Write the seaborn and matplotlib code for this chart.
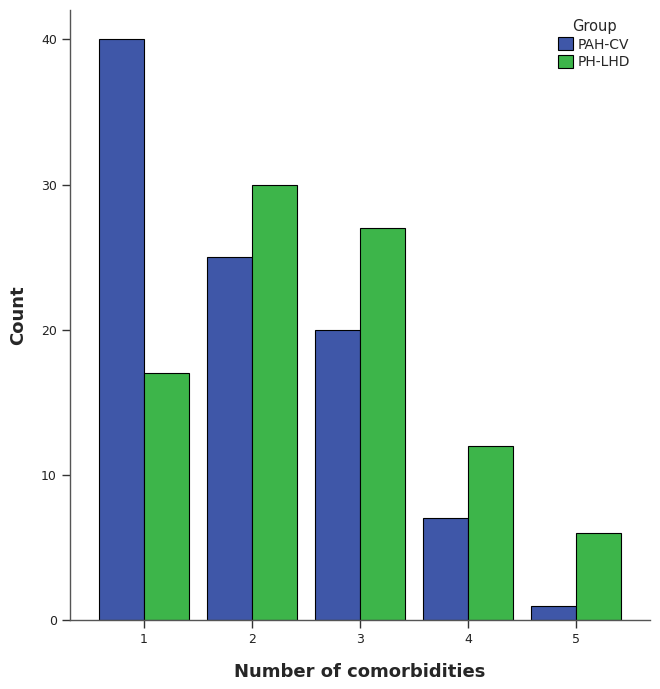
import pandas as pd
import seaborn as sns
import matplotlib.pyplot as plt

# comorbidity counts per group
categories = ['1', '2', '3', '4', '5']
groups = ['PAH-CV', 'PH-LHD']
pahCv = [40, 25, 20, 7, 1]
phLhd = [17, 30, 27, 12, 6]
palette = {'PAH-CV': '#3F57A8', 'PH-LHD': '#3DB54A'}

df = pd.DataFrame({
    'Number of comorbidities': categories * 2,
    'Count': pahCv + phLhd,
    'Group': [groups[0]] * len(categories) + [groups[1]] * len(categories),
})

sns.set_style('white')
plt.rcParams['font.family'] = ['DejaVu Sans']

fig = plt.figure(figsize=(6.6, 6.89), dpi=100)
ax = fig.add_axes([0.106, 0.100, 0.879, 0.885])

sns.barplot(data=df, x='Number of comorbidities', y='Count', hue='Group',
            palette=palette, width=0.83, edgecolor='black', linewidth=0.8,
            saturation=1, ax=ax)

ax.set_xlim(-0.685, 4.685)
ax.set_ylim(0, 42)
ax.set_yticks([0, 10, 20, 30, 40])
for s in ['top', 'right']:
    ax.spines[s].set_visible(False)
for s in ['left', 'bottom']:
    ax.spines[s].set_color('#555555')
    ax.spines[s].set_linewidth(1.0)
ax.tick_params(axis='both', direction='out', length=6, width=1,
               color='#333333', labelsize=9, labelcolor='#222222', left=True, bottom=True)
ax.set_xlabel('Number of comorbidities', fontsize=13, fontweight='bold', labelpad=12)
ax.set_ylabel('Count', fontsize=13, fontweight='bold', labelpad=10)

leg = ax.legend(title='Group', loc='upper right', bbox_to_anchor=(0.98, 1.0),
                frameon=False, fontsize=10, title_fontsize=10.5,
                handlelength=1.1, handleheight=1.1, handletextpad=0.3,
                labelspacing=0.25, borderaxespad=0.2)

plt.savefig('out.png', dpi=100)
